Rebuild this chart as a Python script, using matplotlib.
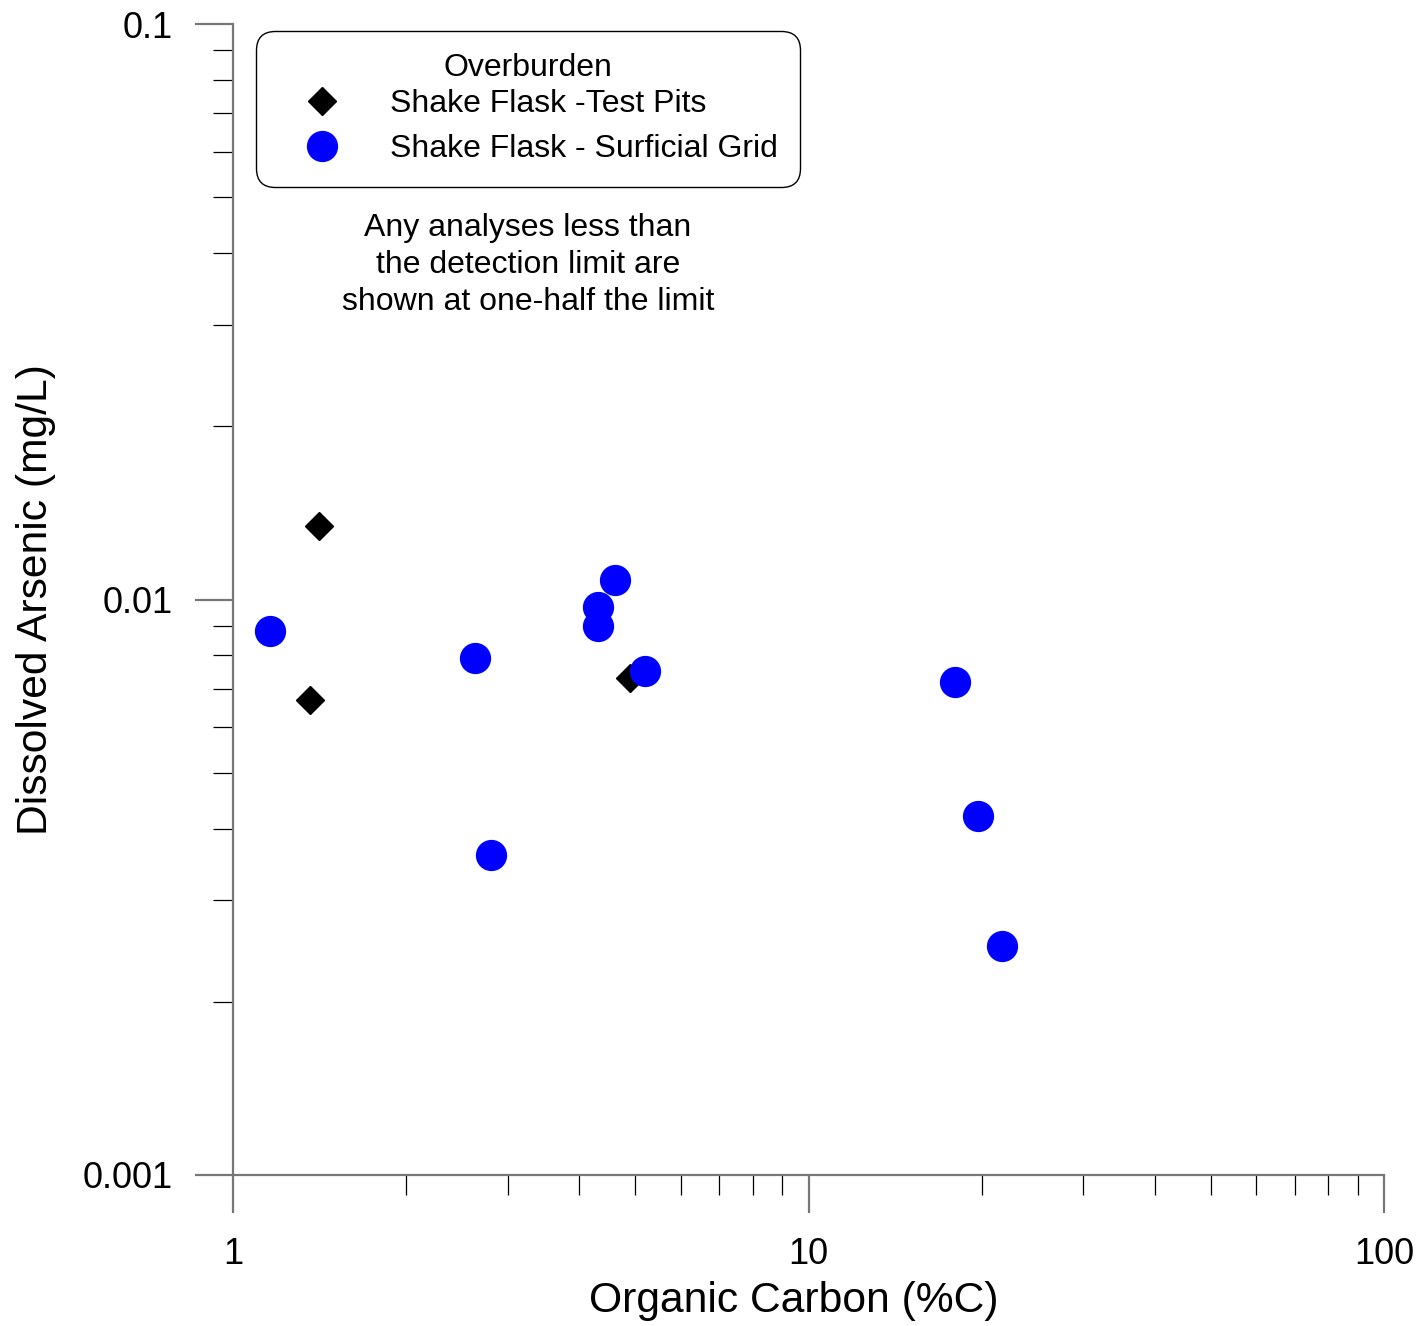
import matplotlib
matplotlib.use("Agg")
import matplotlib.pyplot as plt
from matplotlib.ticker import FixedLocator, FixedFormatter, LogLocator, NullFormatter

plt.rcParams['font.family'] = ['Liberation Sans', 'DejaVu Sans']

# Shake flask - test pits (black diamonds)
pits_carbon = [1.41, 1.36, 4.90]
pits_arsenic = [0.0134, 0.0067, 0.0073]

# Shake flask - surficial grid (blue circles)
grid_carbon = [1.16, 2.63, 2.81, 4.31, 4.31, 4.61, 5.20, 17.97, 19.7, 21.7]
grid_arsenic = [0.0088, 0.0079, 0.0036, 0.0097, 0.0090, 0.0108, 0.0075, 0.0072, 0.0042, 0.0025]

x_ticks = [1, 10, 100]
x_labels = ['1', '10', '100']
y_ticks = [0.001, 0.01, 0.1]
y_labels = ['0.001', '0.01', '0.1']

fig = plt.figure(figsize=(14.24, 13.26), dpi=100)
ax = fig.add_axes([233 / 1424, 1 - 1175 / 1326, (1384 - 233) / 1424, (1175 - 24) / 1326])

ax.plot(pits_carbon, pits_arsenic, linestyle='none', marker='D', markersize=14.5,
        color='black', label='Shake Flask -Test Pits', zorder=3)
ax.plot(grid_carbon, grid_arsenic, linestyle='none', marker='o', markersize=21.5,
        color='#0000ff', label='Shake Flask - Surficial Grid', zorder=4)

ax.set_xscale('log')
ax.set_yscale('log')
ax.set_xlim(1, 100)
ax.set_ylim(0.001, 0.1)

ax.xaxis.set_major_locator(FixedLocator(x_ticks))
ax.xaxis.set_major_formatter(FixedFormatter(x_labels))
ax.yaxis.set_major_locator(FixedLocator(y_ticks))
ax.yaxis.set_major_formatter(FixedFormatter(y_labels))
for axis in (ax.xaxis, ax.yaxis):
    axis.set_minor_locator(LogLocator(base=10, subs=range(2, 10)))
    axis.set_minor_formatter(NullFormatter())

spine_grey = '#777777'
for side in ('top', 'right'):
    ax.spines[side].set_visible(False)
for side in ('left', 'bottom'):
    ax.spines[side].set_color(spine_grey)
    ax.spines[side].set_linewidth(1.6)

ax.tick_params(which='major', direction='out', length=27.5, width=1.6,
               color=spine_grey, labelsize=26)
ax.tick_params(which='minor', direction='out', length=14.5, width=0.9, color='black')
ax.tick_params(axis='x', which='major', pad=17)
ax.tick_params(axis='y', which='major', pad=16)

ax.set_xlabel('Organic Carbon (%C)', fontsize=30.7, va='center')
ax.set_ylabel('Dissolved Arsenic (mg/L)', fontsize=30.7, va='center')
ax.xaxis.set_label_coords(0.487, -0.1096)
ax.yaxis.set_label_coords(-0.1715, 0.5)

leg = ax.legend(title='Overburden', loc='upper left',
                bbox_to_anchor=(256 / 1424, 1 - 31 / 1326), bbox_transform=fig.transFigure,
                fontsize=23, title_fontsize=23, frameon=True, fancybox=True,
                framealpha=1, edgecolor='black', borderpad=0.7, handlelength=2.73,
                handletextpad=0.76, labelspacing=0.47, borderaxespad=0, numpoints=1)
# tighter gap between the title and the two entries
leg._legend_box.sep = 4.3
leg.get_frame().set_linewidth(1.0)
leg.get_frame().set_boxstyle('round,pad=0,rounding_size=0.6')

ax.text(0.2563, 0.7906, 'Any analyses less than\nthe detection limit are\nshown at one-half the limit',
        transform=ax.transAxes, ha='center', va='center', multialignment='center',
        fontsize=23, linespacing=1.31)

fig.savefig('out.png', dpi=100)
